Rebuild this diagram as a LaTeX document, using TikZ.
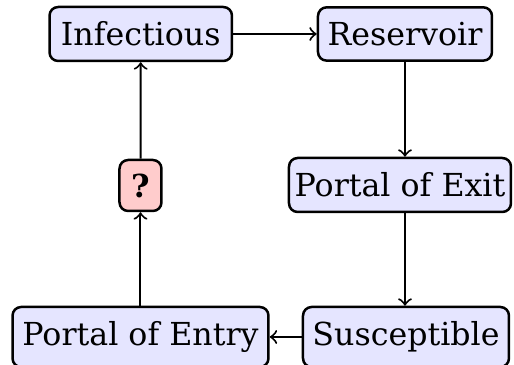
\documentclass[tikz,border=0pt]{standalone}
\usepackage{fontspec}
\setmainfont{DejaVu Serif}
\begin{document}
\begin{tikzpicture}[x=0.3pt,y=-0.3pt,
  box/.style={draw=black, line width=0.75pt, rounded corners=2.6pt, fill=blue!10,
    inner sep=0pt, align=center, font=\fontsize{9.5pt}{11pt}\selectfont},
  qbox/.style={box, fill=red!20, font=\fontsize{9.5pt}{11pt}\selectfont\bfseries},
  conn/.style={->, line width=0.6pt}]
\useasboundingbox (0,0) rectangle (514,365);
\node[box, minimum width=54.75pt, minimum height=16.2pt] (inf) at (140.75,34) {Infectious};
\node[box, minimum width=52.2pt, minimum height=16pt] (res) at (405,34) {Reservoir};
\node[qbox, minimum width=12.6pt, minimum height=15.3pt] (q) at (140.5,185.5) {?};
\node[box, minimum width=66.6pt, minimum height=16.2pt] (ex) at (400,185) {Portal of Exit};
\node[box, minimum width=76.8pt, minimum height=18pt] (ent) at (140.5,337) {Portal of Entry};
\node[box, minimum width=61.8pt, minimum height=18pt] (sus) at (406,337) {Susceptible};
\draw[conn] (inf) -- (res);
\draw[conn] (res.south) -- (res.south |- ex.north);
\draw[conn] (res.south |- ex.south) -- (res.south |- sus.north);
\draw[conn] (sus) -- (ent);
\draw[conn] (ent) -- (q);
\draw[conn] (q) -- (inf);
\end{tikzpicture}
\end{document}
